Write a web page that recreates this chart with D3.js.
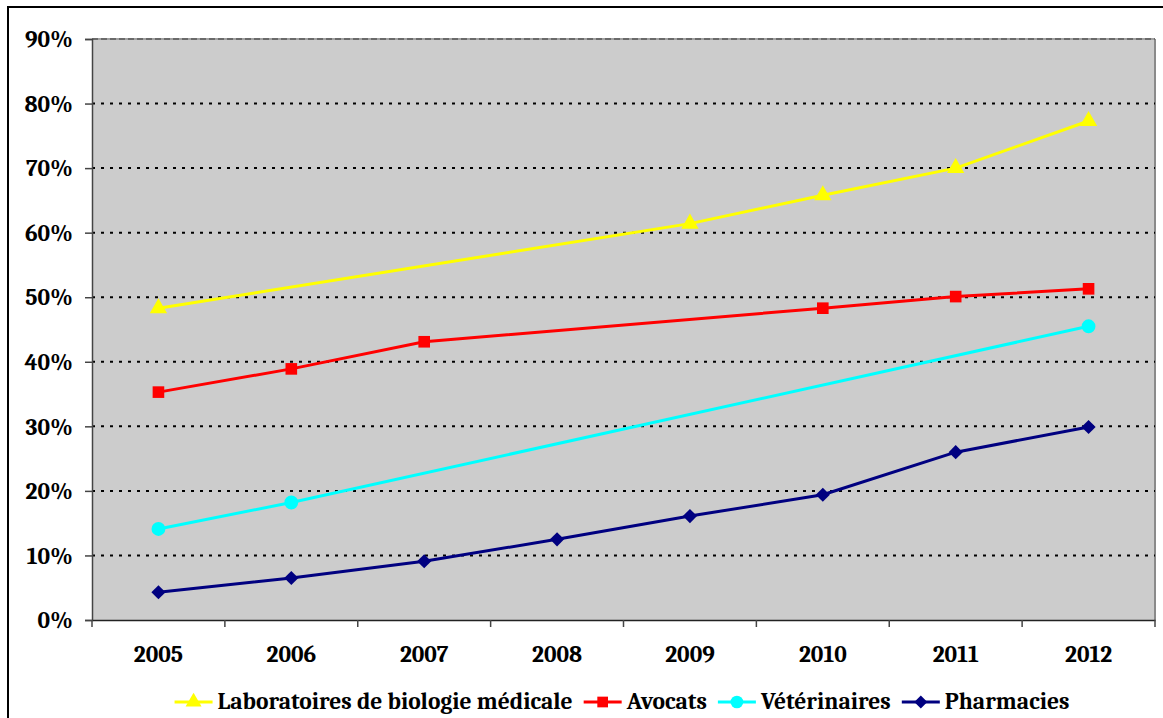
<!DOCTYPE html>
<html>
<head>
<meta charset="utf-8">
<script src="https://cdn.jsdelivr.net/npm/d3@7"></script>
<style>
  html, body { margin: 0; padding: 0; background: #ffffff; }
  svg { display: block; }
</style>
</head>
<body>
<svg id="chart" width="1163" height="718"></svg>
<script>
// Years on the horizontal axis
const years = ["2005", "2006", "2007", "2008", "2009", "2010", "2011", "2012"];
// Share per year (%), null where no value was recorded
const laboratoires = [48.3, null, null, null, 61.4, 65.8, 70.0, 77.3];
const avocats = [35.3, 38.9, 43.1, null, null, 48.3, 50.1, 51.3];
const veterinaires = [14.1, 18.2, null, null, null, null, null, 45.5];
const pharmacies = [4.3, 6.5, 9.1, 12.5, 16.1, 19.4, 26.0, 29.9];
const seriesNames = ["Laboratoires de biologie médicale", "Avocats", "Vétérinaires", "Pharmacies"];
const yTicks = [0, 10, 20, 30, 40, 50, 60, 70, 80, 90];

const seriesValues = [laboratoires, avocats, veterinaires, pharmacies];
const colors = ["#FFFF00", "#FF0000", "#00FFFF", "#000080"];
// Marker shapes: triangle, square, circle, diamond (a square turned 45°)
const symbols = [d3.symbolTriangle, d3.symbolSquare, d3.symbolCircle, d3.symbolSquare];
const symbolSizes = [130, 135, 150, 100];
const symbolRotate = [0, 0, 0, 45];

const FONT = 'Cambria, Caladea, "Liberation Serif", serif';
const FONT_SIZE = "23.5px";
const styleText = sel => sel
  .style("font-family", FONT)
  .style("font-weight", "bold")
  .style("font-size", FONT_SIZE)
  .style("fill", "#000");

const svg = d3.select("#chart");
const plot = { left: 92, right: 1155, top: 39, bottom: 620 };

// Outer frame of the chart
svg.append("rect")
  .attr("x", 8).attr("y", 7).attr("width", 1200).attr("height", 800)
  .attr("fill", "none").attr("stroke", "#000").attr("stroke-width", 2);

const x = d3.scaleBand().domain(years).range([plot.left, plot.right]).padding(0);
const y = d3.scaleLinear().domain([0, 90]).range([plot.bottom, plot.top]);
const cx = d => x(d) + x.bandwidth() / 2;

// Plot background
svg.append("rect")
  .attr("x", plot.left).attr("y", plot.top)
  .attr("width", plot.right - plot.left).attr("height", plot.bottom - plot.top)
  .attr("fill", "#CCCCCC");

// Right and top edges of the plot area
svg.append("line")
  .attr("x1", plot.right).attr("x2", plot.right)
  .attr("y1", plot.top).attr("y2", plot.bottom)
  .attr("stroke", "#8a8a8a").attr("stroke-width", 2);
svg.append("line")
  .attr("x1", plot.left).attr("x2", plot.right)
  .attr("y1", y(90)).attr("y2", y(90))
  .attr("stroke", "#a0a0a0").attr("stroke-width", 2);
svg.append("line")
  .attr("x1", plot.left).attr("x2", plot.right)
  .attr("y1", y(90)).attr("y2", y(90))
  .attr("stroke", "#6a6a6a").attr("stroke-width", 2)
  .attr("stroke-dasharray", "6,3");

// Dotted horizontal gridlines
svg.append("g").selectAll("line")
  .data(yTicks.filter(t => t > 0 && t < 90))
  .join("line")
  .attr("x1", plot.left).attr("x2", plot.right)
  .attr("y1", d => y(d)).attr("y2", d => y(d))
  .attr("stroke", "#000").attr("stroke-width", 2)
  .attr("stroke-dasharray", "3,6");

// Y axis
const yAxis = svg.append("g")
  .attr("transform", `translate(${plot.left},0)`)
  .call(d3.axisLeft(y).tickValues(yTicks).tickSize(7).tickPadding(12).tickFormat(d => d + "%"));
yAxis.attr("font-family", null);
yAxis.select(".domain").attr("stroke", "#444").attr("stroke-width", 1.5);
yAxis.selectAll(".tick line").attr("stroke", "#444").attr("stroke-width", 1.5);
yAxis.selectAll("text").call(styleText).attr("dy", "0.33em");

// X axis: labels at band centres, ticks at band boundaries
const xAxis = svg.append("g")
  .attr("transform", `translate(0,${plot.bottom})`)
  .call(d3.axisBottom(x).tickSize(0).tickPadding(25));
xAxis.attr("font-family", null);
xAxis.select(".domain").attr("stroke", "#222").attr("stroke-width", 1.5);
xAxis.selectAll("text").call(styleText);
const boundaries = years.map(d => x(d)).concat([plot.right]);
xAxis.selectAll(".bound")
  .data(boundaries)
  .join("line")
  .attr("class", "bound")
  .attr("x1", d => d).attr("x2", d => d)
  .attr("y1", 0).attr("y2", 7)
  .attr("stroke", "#444").attr("stroke-width", 1.5);

// Series lines and markers (missing years are bridged)
const line = d3.line().x(d => cx(d.year)).y(d => y(d.value));
seriesValues.forEach((vals, i) => {
  const pts = years.map((yr, j) => ({ year: yr, value: vals[j] })).filter(d => d.value != null);
  const g = svg.append("g");
  g.append("path")
    .datum(pts)
    .attr("d", line)
    .attr("fill", "none")
    .attr("stroke", colors[i])
    .attr("stroke-width", 3)
    .attr("stroke-linejoin", "round");
  g.selectAll("path.marker")
    .data(pts)
    .join("path")
    .attr("class", "marker")
    .attr("transform", d => `translate(${cx(d.year)},${y(d.value)}) rotate(${symbolRotate[i]})`)
    .attr("d", d3.symbol().type(symbols[i]).size(symbolSizes[i]))
    .attr("fill", colors[i]);
});

// Legend along the bottom
const legend = svg.append("g");
const items = [];
seriesNames.forEach((name, i) => {
  const g = legend.append("g");
  g.append("line")
    .attr("x1", 0).attr("x2", 38).attr("y1", 0).attr("y2", 0)
    .attr("stroke", colors[i]).attr("stroke-width", 3);
  g.append("path")
    .attr("transform", `translate(19,0) rotate(${symbolRotate[i]})`)
    .attr("d", d3.symbol().type(symbols[i]).size(symbolSizes[i] * 0.85))
    .attr("fill", colors[i]);
  const t = g.append("text")
    .attr("x", 43).attr("y", 7)
    .call(styleText)
    .text(name);
  items.push({ g, w: 43 + t.node().getComputedTextLength() });
});
const gap = 11;
const total = d3.sum(items, d => d.w) + gap * (items.length - 1);
let pos = 622 - total / 2;
items.forEach(it => {
  it.g.attr("transform", `translate(${pos},702)`);
  pos += it.w + gap;
});
</script>
</body>
</html>
